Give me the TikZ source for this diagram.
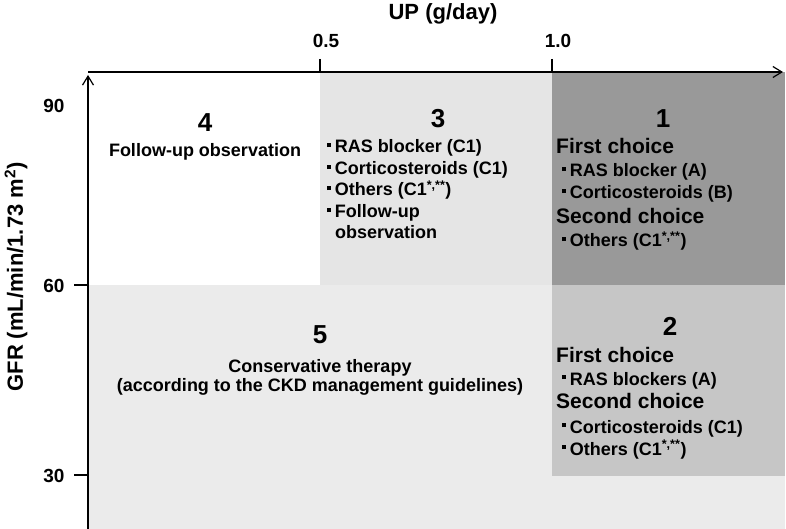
\documentclass[tikz,border=0pt]{standalone}
\usepackage{fontspec}
\setmainfont{Liberation Sans}
\usetikzlibrary{arrows.meta}
\definecolor{cone}{HTML}{999999}
\definecolor{ctwo}{HTML}{C6C6C6}
\definecolor{cthree}{HTML}{E5E5E5}
\definecolor{cfive}{HTML}{EBEBEB}
\newcommand\sqb{\raisebox{0.33em}{\rule{0.22em}{0.22em}}\hspace{0.2em}}
\begin{document}
\begin{tikzpicture}[x=1pt,y=-1pt,
  axisline/.style={line width=1.3pt, -{Straight Barb[length=9pt,width=11pt,line width=1.2pt]}},
  tickline/.style={line width=1.3pt},
  body/.style={inner sep=0pt, anchor=base west, font=\fontsize{18}{20}\selectfont\bfseries},
  bodyc/.style={body, anchor=base},
  head/.style={inner sep=0pt, anchor=base west, font=\fontsize{21}{24}\selectfont\bfseries},
  num/.style={inner sep=0pt, anchor=base, font=\fontsize{26}{29}\selectfont\bfseries},
  ticklab/.style={inner sep=0pt, anchor=base, font=\fontsize{19}{22}\selectfont\bfseries},
  axlab/.style={inner sep=0pt, font=\fontsize{22}{25}\selectfont\bfseries}]
\useasboundingbox (0,0) rectangle (786,529);
% regions
\fill[cfive] (88,285) rectangle (785,529);
\fill[cthree] (320,72) rectangle (552,285);
\fill[cone] (552,72) rectangle (785,285);
\fill[ctwo] (552,285) rectangle (785,476);
% axes
\coordinate (origin) at (88,72);
\coordinate (xend) at (783,72);
\coordinate (ybot) at (88,529);
\coordinate (ytop) at (88,75);
\coordinate (t05a) at (320,59); \coordinate (t05b) at (320,72);
\coordinate (t10a) at (552,59); \coordinate (t10b) at (552,72);
\coordinate (t60a) at (74,285); \coordinate (t60b) at (88,285);
\coordinate (t30a) at (74,475); \coordinate (t30b) at (88,475);
\draw[axisline] (origin) -- (xend);
\draw[axisline] (ybot) -- (ytop);
\draw[tickline] (t05a) -- (t05b);
\draw[tickline] (t10a) -- (t10b);
\draw[tickline] (t60a) -- (t60b);
\draw[tickline] (t30a) -- (t30b);
% axis labels
\node[axlab, anchor=base] (uplab) at (443,20) {UP (g/day)};
\node[ticklab] (l05) at (326,48) {0.5};
\node[ticklab] (l10) at (558,48) {1.0};
\node[ticklab] (l90) at (54,113) {90};
\node[ticklab] (l60) at (54,292) {60};
\node[ticklab] (l30) at (54,482) {30};
\node[axlab, rotate=90] (gfrlab) at (16,277) {GFR (mL/min/1.73 m\textsuperscript{2})};
% region 4
\node[num] (n4) at (205,132) {4};
\node[bodyc] (r4a) at (205,157) {Follow-up observation};
% region 3
\node[num] (n3) at (438,128) {3};
\node[body] (r3a) at (327,153) {\sqb RAS blocker (C1)};
\node[body] (r3b) at (327,175) {\sqb Corticosteroids (C1)};
\node[body] (r3c) at (327,196) {\sqb Others (C1\textsuperscript{*,**})};
\node[body] (r3d) at (327,218) {\sqb Follow-up};
\node[body] (r3e) at (335,239) {observation};
% region 1
\node[num] (n1) at (663,128) {1};
\node[head] (r1a) at (556,154) {First choice};
\node[body] (r1b) at (562,177) {\sqb RAS blocker (A)};
\node[body] (r1c) at (562,199) {\sqb Corticosteroids (B)};
\node[head] (r1d) at (556,223) {Second choice};
\node[body] (r1e) at (562,247) {\sqb Others (C1\textsuperscript{*,**})};
% region 2
\node[num] (n2) at (670,335) {2};
\node[head] (r2a) at (556,362) {First choice};
\node[body] (r2b) at (562,385) {\sqb RAS blockers (A)};
\node[head] (r2c) at (556,408) {Second choice};
\node[body] (r2d) at (562,433) {\sqb Corticosteroids (C1)};
\node[body] (r2e) at (562,455) {\sqb Others (C1\textsuperscript{*,**})};
% region 5
\node[num] (n5) at (320,343) {5};
\node[bodyc] (r5a) at (320,372) {Conservative therapy};
\node[bodyc] (r5b) at (320,391) {(according to the CKD management guidelines)};
\end{tikzpicture}
\end{document}
